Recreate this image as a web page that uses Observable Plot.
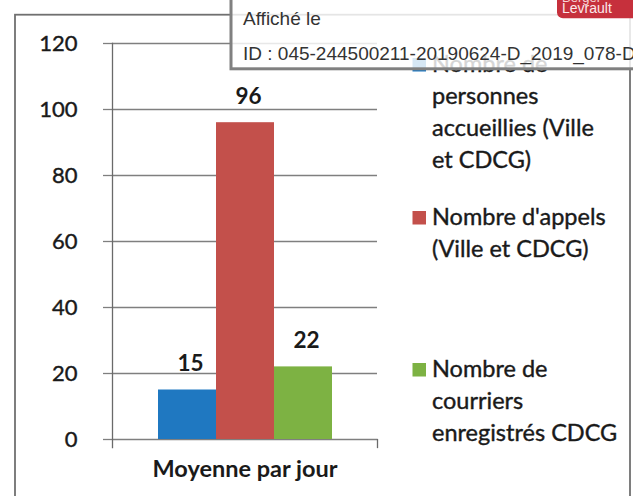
<!DOCTYPE html>
<html>
<head>
<meta charset="utf-8">
<script src="https://cdn.jsdelivr.net/npm/d3@7"></script>
<script src="https://cdn.jsdelivr.net/npm/@observablehq/plot@0.6"></script>
<style>
  html, body { margin: 0; padding: 0; background: #fff; }
  #page { position: relative; width: 633px; height: 496px; overflow: hidden; background: #fff; }
  #page > svg, #page > div { position: absolute; left: 0; top: 0; }
  #page g[aria-label="y-axis tick label"] text { stroke: #1a1a1a; stroke-width: 0.4px; }
</style>
</head>
<body>
<div id="page"></div>
<script>
// ---- data ----
const categories = ["Moyenne par jour"];
const series = [
  "Nombre de personnes accueillies (Ville et CDCG)",
  "Nombre d'appels (Ville et CDCG)",
  "Nombre de courriers enregistrés CDCG"
];
const values = [15, 96, 22];
const legendLines = [
  ["Nombre de", "personnes", "accueillies (Ville", "et CDCG)"],
  ["Nombre d'appels", "(Ville et CDCG)"],
  ["Nombre de", "courriers", "enregistrés CDCG"]
];
const yTicks = [0, 20, 40, 60, 80, 100, 120];
const colors = ["#1f78c1", "#c3504b", "#7db243"];
const stampLines = ["Affiché le", "ID : 045-244500211-20190624-D_2019_078-DE"];

const data = series.map((s, i) => ({cat: categories[0], series: s, value: values[i]}));

// ---- layout ----
(function () {
const W = 633, H = 496, mL = 112, mR = 256, mT = 43, mB = 57;
const page = document.getElementById("page");
const FONT = "Lato, 'Noto Sans', sans-serif";

// outer frame (behind everything)
const back = d3.select(page).append("svg").attr("width", W).attr("height", H);
back.append("rect").attr("x", 15).attr("y", 14.7).attr("width", 615).attr("height", 600)
  .attr("fill", "none").attr("stroke", "#707070").attr("stroke-width", 1.8);

const chart = Plot.plot({
  width: W, height: H,
  marginLeft: mL, marginRight: mR, marginTop: mT, marginBottom: mB,
  style: {fontFamily: FONT, background: "transparent", overflow: "visible"},
  fx: {domain: categories, padding: 0, label: null, axis: null},
  x: {domain: series, paddingInner: 0, paddingOuter: 0.758, axis: null},
  y: {domain: [0, 120], label: null, axis: null},
  color: {domain: series, range: colors},
  marks: [
    Plot.gridY(yTicks, {stroke: "#7f7f7f", strokeOpacity: 1, strokeWidth: 1.3}),
    Plot.axisY(yTicks, {tickSize: 9, tickPadding: 26, fontSize: 22, stroke: "#7f7f7f", strokeWidth: 1.3, fill: "#1a1a1a", label: null}),
    Plot.frame({anchor: "left", insetBottom: -8, stroke: "#6a6a6a", strokeWidth: 1.3}),
    Plot.frame({anchor: "right", insetTop: H - mT - mB, insetBottom: -8, stroke: "#6a6a6a", strokeWidth: 1.3}),
    Plot.barY(data, {fx: "cat", x: "series", y: "value", fill: "series"}),
    Plot.text(data, {fx: "cat", x: "series", y: "value", text: d => String(d.value),
      lineAnchor: "bottom", dy: -19, dx: 3, fontSize: 22.5, fontWeight: "bold", fill: "#1a1a1a"}),
    Plot.axisFx({anchor: "bottom", tickSize: 0, tickPadding: 21, fontSize: 23.5, fontWeight: "bold", fill: "#1a1a1a", label: null})
  ]
});
page.appendChild(chart);

// legend
const leg = d3.select(page).append("svg").attr("width", W).attr("height", H);
const firstBaselines = [72, 225, 377];
legendLines.forEach((lines, i) => {
  const b = firstBaselines[i];
  leg.append("rect").attr("x", 412.5).attr("y", b - 14).attr("width", 13.5).attr("height", 13.5).attr("fill", colors[i]);
  const t = leg.append("text").attr("x", 432).attr("y", b)
    .attr("font-family", FONT).attr("font-size", 23.5).attr("fill", "#1a1a1a")
    .attr("stroke", "#1a1a1a").attr("stroke-width", 0.4);
  lines.forEach((l, k) => t.append("tspan").attr("x", 432).attr("y", b + k * 32).text(l));
});

// stamp + logo overlay
const over = d3.select(page).append("svg").attr("width", W).attr("height", H);
over.append("rect").attr("x", 231).attr("y", -10).attr("width", 500).attr("height", 78.8)
  .attr("fill", "rgba(255,255,255,0.82)").attr("stroke", "#808080").attr("stroke-width", 3);
stampLines.forEach((s, k) => {
  over.append("text").attr("x", 243).attr("y", [25, 60][k])
    .attr("font-family", "'Liberation Sans', Arial, sans-serif").attr("font-size", 19)
    .attr("fill", "#333").text(s);
});
over.append("rect").attr("x", 557).attr("y", -10).attr("width", 90).attr("height", 28.3).attr("rx", 6)
  .attr("fill", "#c6303c");
over.append("text").attr("x", 562).attr("y", 1.5).attr("font-family", "'Liberation Sans', Arial, sans-serif")
  .attr("font-size", 13).attr("fill", "#f6d6d8").text("Berger");
over.append("text").attr("x", 562).attr("y", 13).attr("font-family", "'Liberation Sans', Arial, sans-serif")
  .attr("font-size", 14).attr("fill", "#fbe9ea").text("Levrault");
})();
</script>
</body>
</html>
